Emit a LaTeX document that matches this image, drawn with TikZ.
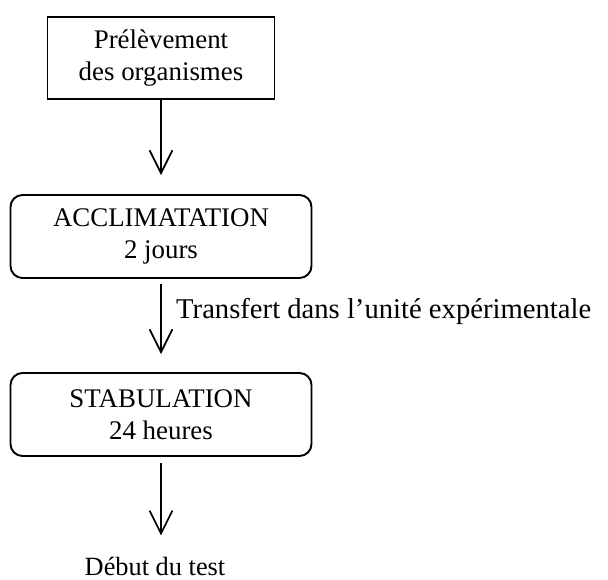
\documentclass[tikz,border=0pt]{standalone}
\usepackage{fontspec}
\setmainfont{Liberation Serif}
\usetikzlibrary{arrows.meta}

\begin{document}
\begin{tikzpicture}[
	boite/.style={draw,line width=1.1pt,align=center,inner sep=0pt,font=\fontsize{15.3}{18}\selectfont},
	etape/.style={boite,rounded corners=.24cm,minimum width=6.02cm,minimum height=1.66cm},
	fleche/.style={line width=1pt,-{Straight Barb[length=13pt,width=13pt,line width=1pt]}},
	texte/.style={font=\fontsize{15}{18}\selectfont}
]
	\useasboundingbox (0,0) rectangle (12.16,11.58);

	\node[boite,minimum width=4.54cm,minimum height=1.64cm] (prelev) at (3.22,10.42) {Prélèvement\\des organismes};
	\node[etape] (acclim) at (3.22,6.85) {ACCLIMATATION\\2 jours};
	\node[etape] (stab) at (3.22,3.29) {STABULATION\\24 heures};
	\node[texte,anchor=base] (debut) at (3.1,0.08) {Début du test};

	\draw[fleche,shorten >=.38cm] (prelev) -- (acclim);
	\draw[fleche,shorten <=.1cm,shorten >=.36cm] (acclim) -- (stab)
		node[texte,font=\fontsize{16.3}{18}\selectfont,pos=.35,right=.17cm] (transfert) {Transfert dans l'unité expérimentale};
	\draw[fleche,shorten <=.12cm,shorten >=.3cm] (stab.south) -- (stab.south |- debut.north);
\end{tikzpicture}
\end{document}
